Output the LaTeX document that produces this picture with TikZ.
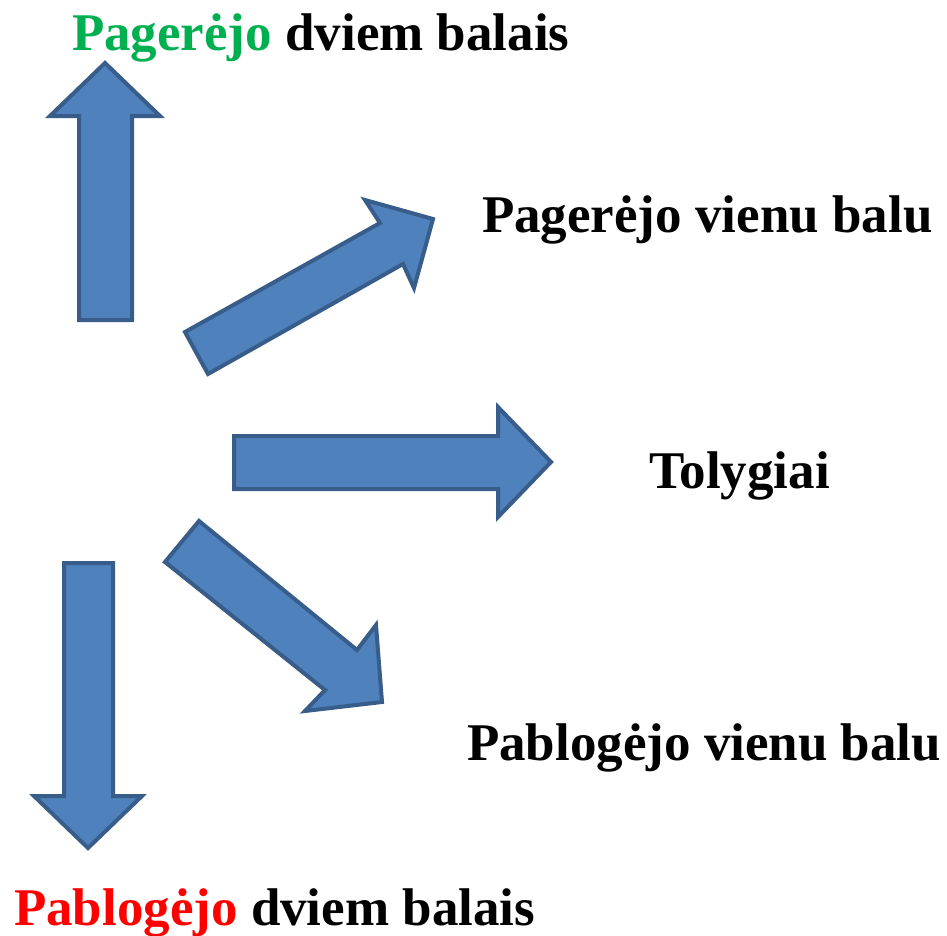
\documentclass[tikz,border=0pt]{standalone}
\usepackage{fontspec}
\setmainfont{Liberation Serif}
\definecolor{arrfill}{HTML}{4F81BD}
\definecolor{arrline}{HTML}{385D8A}
\definecolor{goodgreen}{HTML}{00B050}
\definecolor{badred}{HTML}{FF0000}
\begin{document}
\begin{tikzpicture}[x=1pt,y=-1pt,
  blockarrow/.style={fill=arrfill,draw=arrline,line width=4pt,line join=miter},
  label/.style={anchor=base west,inner sep=0pt,outer sep=0pt,font=\fontsize{53}{60}\selectfont\bfseries}]
\useasboundingbox (0,0) rectangle (947,935);
% up arrow
\draw[blockarrow] (105,63) -- (160,116) -- (132,116) -- (132,320) -- (79,320) -- (79,116) -- (50,116) -- cycle;
% down arrow
\draw[blockarrow] (64,563) -- (113,563) -- (113,796) -- (142,796) -- (88,848) -- (34,796) -- (64,796) -- cycle;
% right arrow
\draw[blockarrow] (234,436) -- (498,436) -- (498,407) -- (551,462) -- (498,517) -- (498,489) -- (234,489) -- cycle;
% up-right arrow
\draw[blockarrow] (185,332) -- (380,223) -- (365,200) -- (433,219) -- (414,288) -- (403,264) -- (208,374) -- cycle;
% down-right arrow
\draw[blockarrow] (199,521) -- (357,650) -- (376,625) -- (382,702) -- (305,711) -- (325,690) -- (165,562) -- cycle;
% labels
\node[label] (t1) at (72,50) {\textcolor{goodgreen}{Pagerėjo} dviem balais};
\node[label] (t2) at (482,232) {Pagerėjo vienu balu};
\node[label] (t3) at (649,488) {Tolygiai};
\node[label] (t4) at (467,760) {Pablogėjo vienu balu};
\node[label] (t5) at (14,925) {\textcolor{badred}{Pablogėjo} dviem balais};
\end{tikzpicture}
\end{document}
